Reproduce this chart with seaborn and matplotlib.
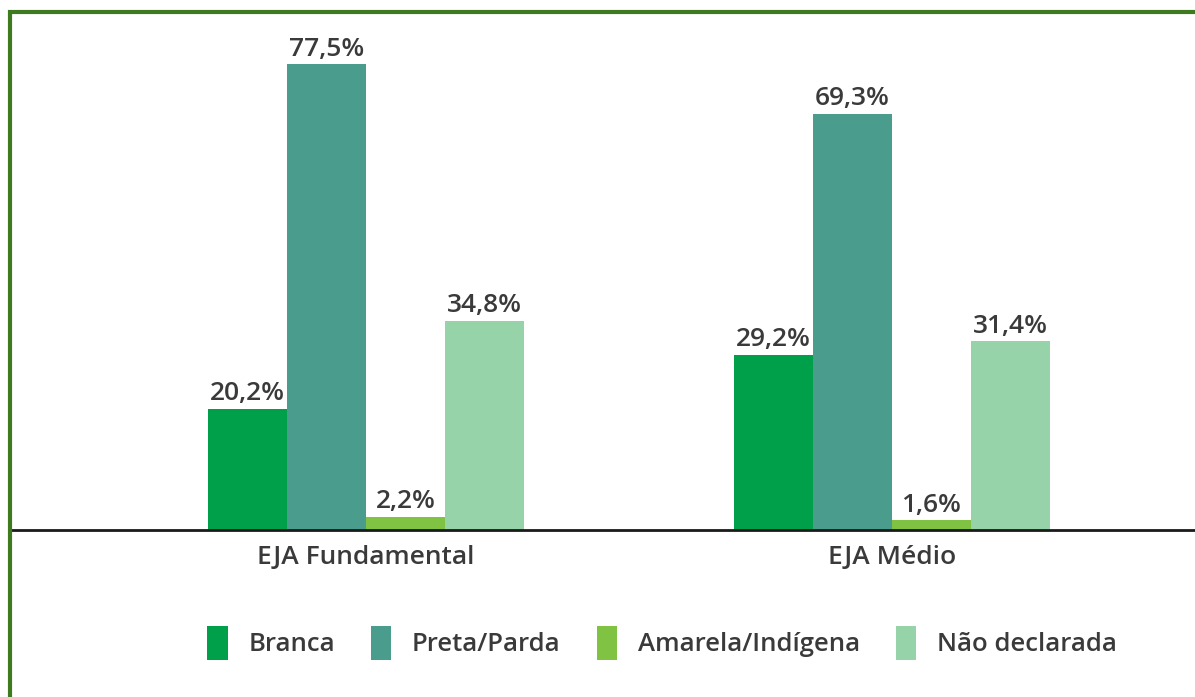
import pandas as pd
import matplotlib.pyplot as plt
import seaborn as sns

niveis = ["EJA Fundamental", "EJA Médio"]
racas = ["Branca", "Preta/Parda", "Amarela/Indígena", "Não declarada"]
branca = [20.2, 29.2]
preta_parda = [77.5, 69.3]
amarela_indigena = [2.2, 1.6]
nao_declarada = [34.8, 31.4]
cores = ["#00a04a", "#4a9c8c", "#80c242", "#96d3a9"]

rows = []
for raca, vals in zip(racas, [branca, preta_parda, amarela_indigena, nao_declarada]):
    for nivel, v in zip(niveis, vals):
        rows.append({"nivel": nivel, "raca": raca, "valor": v})
df = pd.DataFrame(rows)

sns.set_style("white")
plt.rcParams["font.family"] = ["Open Sans", "DejaVu Sans"]
plt.rcParams["font.weight"] = "semibold"

fig = plt.figure(figsize=(11.95, 6.97), dpi=100)
ax = fig.add_axes([12 / 1195, 167 / 697, 1 - 12 / 1195, 516 / 697])

sns.barplot(data=df, x="nivel", y="valor", hue="raca", hue_order=racas,
            palette=cores, width=0.6, gap=0, saturation=1, ax=ax,
            edgecolor="none", linewidth=0, legend=True)

for cont in ax.containers:
    labels = [f"{v:.1f}%".replace(".", ",") for v in cont.datavalues]
    ax.bar_label(cont, labels=labels, padding=2, fontsize=19, color="#3a3a3a")

ax.set_xlim(-354 / 526, 1 + 303 / 526)
ax.set_ylim(0, 85.9)
ax.set_xlabel("")
ax.set_ylabel("")
ax.set_yticks([])
ax.tick_params(axis="x", length=0, pad=11, labelsize=19, labelcolor="#3a3a3a")
for s in ["top", "right", "left"]:
    ax.spines[s].set_visible(False)
ax.spines["bottom"].set_color("#1a1a1a")
ax.spines["bottom"].set_linewidth(2)

handles, labels = ax.get_legend_handles_labels()
ax.get_legend().remove()
fig.legend(handles, labels, loc="center", bbox_to_anchor=(662 / 1195, 1 - 643 / 697),
           ncol=4, frameon=False, fontsize=18.5, handlelength=0.8, handleheight=1.6,
           handletextpad=0.8, columnspacing=1.4, labelcolor="#3a3a3a")

# moldura verde
fig.patches.append(plt.Rectangle((10 / 1195, -0.1), 1.2, 0.1 + (697 - 12) / 697,
                                 transform=fig.transFigure, fill=False,
                                 edgecolor="#3e7b20", linewidth=3, zorder=10))

fig.savefig("out.png", dpi=100)
